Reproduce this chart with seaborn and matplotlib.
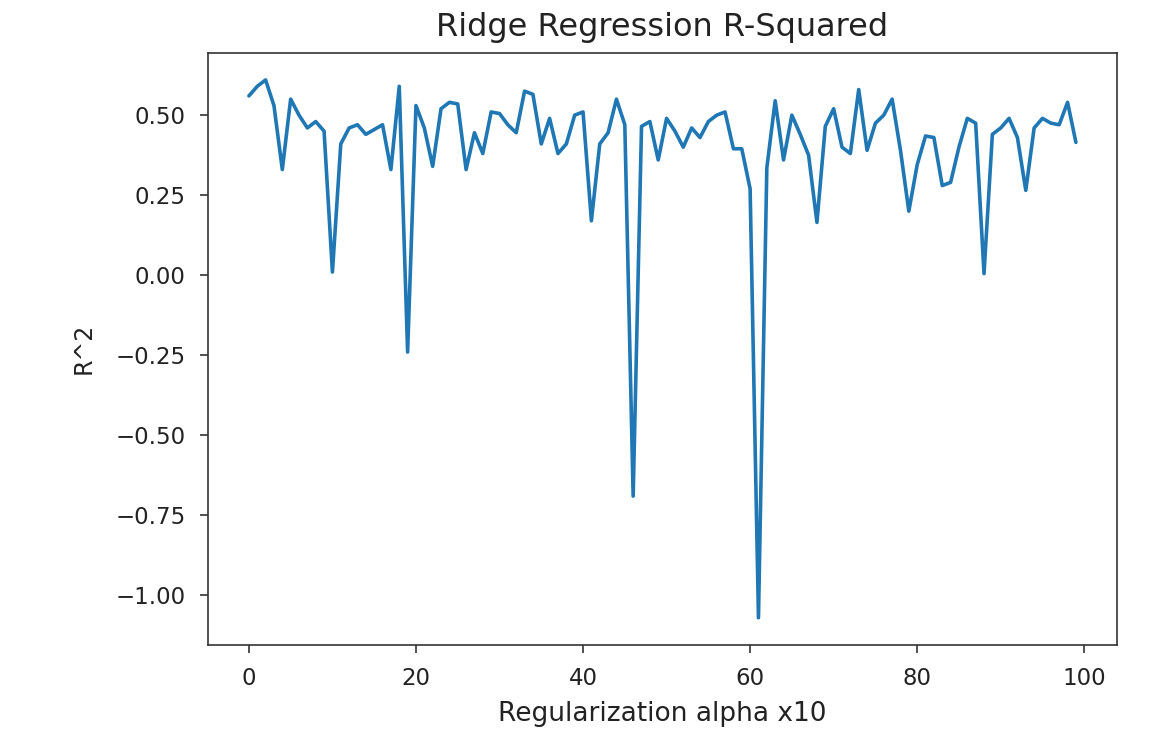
import matplotlib
matplotlib.use("Agg")
import matplotlib.pyplot as plt
import seaborn as sns
import pandas as pd

alpha_x10 = list(range(100))
r_squared = [
    0.56, 0.59, 0.61, 0.53, 0.33, 0.55, 0.50, 0.46, 0.48, 0.45,
    0.01, 0.41, 0.46, 0.47, 0.44, 0.455, 0.47, 0.33, 0.59, -0.24,
    0.53, 0.46, 0.34, 0.52, 0.54, 0.535, 0.33, 0.445, 0.38, 0.51,
    0.505, 0.47, 0.445, 0.575, 0.565, 0.41, 0.49, 0.38, 0.41, 0.50,
    0.51, 0.17, 0.41, 0.445, 0.55, 0.47, -0.69, 0.465, 0.48, 0.36,
    0.49, 0.45, 0.40, 0.46, 0.43, 0.48, 0.50, 0.51, 0.395, 0.395,
    0.27, -1.07, 0.335, 0.545, 0.36, 0.50, 0.44, 0.375, 0.165, 0.465,
    0.52, 0.40, 0.38, 0.58, 0.39, 0.475, 0.50, 0.55, 0.39, 0.20,
    0.345, 0.435, 0.43, 0.28, 0.29, 0.40, 0.49, 0.475, 0.005, 0.44,
    0.46, 0.49, 0.43, 0.265, 0.46, 0.49, 0.475, 0.47, 0.54, 0.415,
]

title = "Ridge Regression R-Squared"
xlabel = "Regularization alpha x10"
ylabel = "R^2"
xticks = [0, 20, 40, 60, 80, 100]
yticks = [-1.0, -0.75, -0.5, -0.25, 0.0, 0.25, 0.5]
yticklabels = ["\u22121.00", "\u22120.75", "\u22120.50", "\u22120.25", "0.00", "0.25", "0.50"]

df = pd.DataFrame({"alpha": alpha_x10, "r2": r_squared})

sns.set_style("ticks")
plt.rcParams['font.family'] = ['DejaVu Sans']

fig = plt.figure(figsize=(11.53, 7.47), dpi=100)
ax = fig.add_axes([0.180, 0.137, 0.789, 0.792])
sns.lineplot(data=df, x="alpha", y="r2", ax=ax, color="#1f77b4", linewidth=2.6)

ax.set_title(title, fontsize=23, pad=12, color="#222222")
ax.set_xlabel(xlabel, fontsize=19, labelpad=8, color="#222222")
ax.set_ylabel(ylabel, fontsize=17, labelpad=14, color="#222222")
ax.tick_params(labelsize=16.5, length=6, width=1.1, pad=10, colors="#222222")
ax.set_xticks(xticks)
ax.set_yticks(yticks)
ax.set_yticklabels(yticklabels)
ax.margins(x=0.05, y=0.05)
for s in ax.spines.values():
    s.set_visible(True)
    s.set_linewidth(1.2)
    s.set_color("#333333")

fig.savefig("out.png", dpi=100)
